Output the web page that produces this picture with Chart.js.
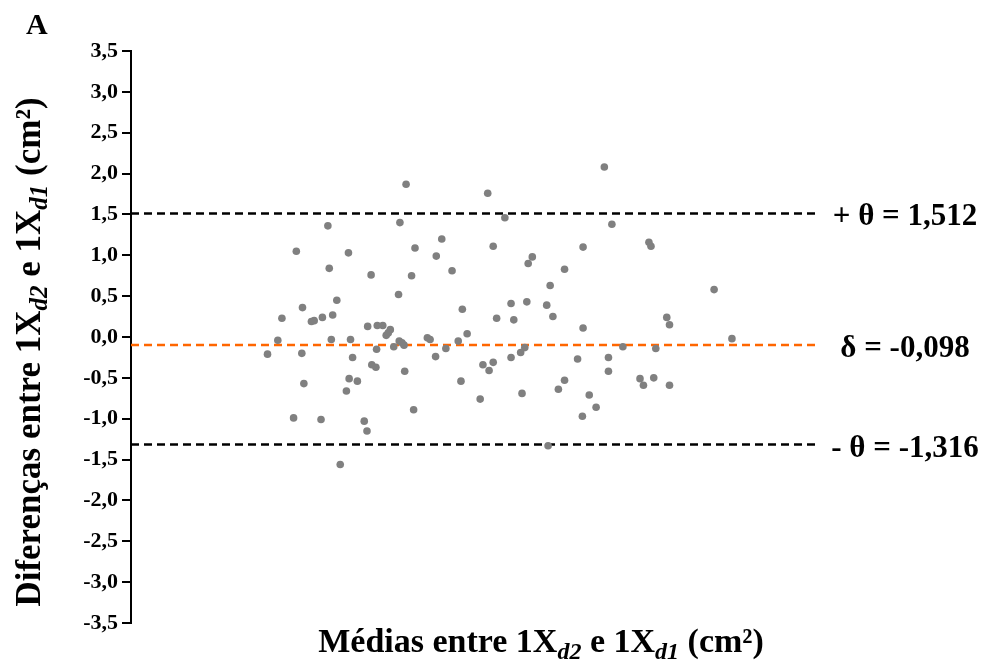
<!DOCTYPE html>
<html>
<head>
<meta charset="utf-8">
<script src="https://cdn.jsdelivr.net/npm/chart.js@4/dist/chart.umd.min.js"></script>
<style>
  html, body { margin: 0; padding: 0; background: #ffffff; }
  #wrap { width: 991px; height: 661px; position: relative; }
</style>
</head>
<body>
<div id="wrap"><canvas id="c" width="991" height="661"></canvas></div>
<script>
// Bland-Altman: mean of the two measurements (x) vs. their difference (y), in cm²
const meanValues = [
  1.99, 2.14, 2.20, 2.37, 2.41, 2.50, 2.49, 2.52, 2.63, 2.67,
  2.77, 2.79, 2.87, 2.89, 2.92, 2.94, 3.00, 3.05, 3.14, 3.17,
  3.18, 3.20, 3.23, 3.30, 3.40, 3.44, 3.45, 3.50, 3.51, 3.57,
  3.59, 3.58, 3.67, 3.72, 3.75, 3.78, 3.83, 3.90, 3.91, 3.92,
  3.95, 3.98, 3.99, 4.01, 4.09, 4.12, 4.14, 4.32, 4.36, 4.44,
  4.45, 4.53, 4.59, 4.68, 4.77, 4.81, 4.83, 4.90, 5.09, 5.13,
  5.20, 5.22, 5.28, 5.28, 5.33, 5.45, 5.54, 5.54, 5.58, 5.68,
  5.70, 5.74, 5.77, 5.79, 5.85, 6.06, 6.08, 6.11, 6.15, 6.23,
  6.32, 6.32, 6.51, 6.58, 6.59, 6.59, 6.68, 6.78, 6.90, 6.96,
  6.96, 7.01, 7.17, 7.42, 7.47, 7.55, 7.58, 7.62, 7.65, 7.81,
  7.85, 7.85, 8.50, 8.76
];
const diffValues = [
  -0.21, -0.04, 0.23, -0.99, 1.05, 0.36, -0.20, -0.57, 0.19, 0.20,
  -1.01, 0.24, 1.36, 0.84, -0.03, 0.27, 0.45, -1.56, -0.66, 1.03,
  -0.51, -0.03, -0.25, -0.54, -1.03, -1.15, 0.13, 0.76, -0.34, -0.37,
  0.14, -0.15, 0.14, 0.02, 0.05, 0.09, -0.12, 0.52, -0.05, 1.40,
  -0.07, -0.10, -0.42, 1.87, 0.75, -0.89, 1.09, -0.01, -0.03, -0.24,
  0.99, 1.20, -0.14, 0.81, -0.05, -0.54, 0.34, 0.04, -0.76, -0.34,
  1.76, -0.41, -0.31, 1.11, 0.23, 1.46, 0.41, -0.25, 0.21, -0.19,
  -0.69, -0.13, 0.43, 0.90, 0.98, 0.39, -1.33, 0.63, 0.25, -0.64,
  -0.53, 0.83, -0.27, -0.97, 0.11, 1.10, -0.71, -0.86, 2.08, -0.25,
  -0.42, 1.38, -0.12, -0.51, -0.59, 1.16, 1.11, -0.50, -0.14, 0.24,
  0.15, -0.59, 0.58, -0.02
];

// Axis settings
const yMin = -3.5, yMax = 3.5, yStep = 0.5;
const xMin = 0, xMax = 10;

// Agreement limits and bias
const limitValues = [1.512, -0.098, -1.316];
const limitLabels = ['+ θ = 1,512', 'δ = -0,098', '- θ = -1,316'];
const limitColors = ['#000000', '#ff6600', '#000000'];

const panelLetter = 'A';
const xTitleParts = [
  { t: 'Médias entre 1X' }, { t: 'd2', sub: true }, { t: ' e 1X' }, { t: 'd1', sub: true }, { t: ' (cm²)' }
];
const yTitleParts = [
  { t: 'Diferenças entre 1X' }, { t: 'd2', sub: true }, { t: ' e 1X' }, { t: 'd1', sub: true }, { t: ' (cm²)' }
];

const FAMILY = '"Liberation Serif", "Times New Roman", serif';

const points = meanValues.map((m, i) => ({ x: m, y: diffValues[i] }));

const limitDatasets = limitValues.map((v, i) => ({
  type: 'line',
  data: [{ x: xMin, y: v }, { x: xMax, y: v }],
  borderColor: limitColors[i],
  borderWidth: 2.4,
  borderDash: [8, 5],
  pointRadius: 0,
  fill: false,
  order: 2
}));

function partFont(p, size) {
  return p.sub ? `italic bold ${Math.round(size * 0.72)}px ${FAMILY}` : `bold ${size}px ${FAMILY}`;
}
function richWidth(ctx, parts, size) {
  let w = 0;
  for (const p of parts) { ctx.font = partFont(p, size); w += ctx.measureText(p.t).width; }
  return w;
}
function drawRich(ctx, parts, size, x, y) {
  for (const p of parts) {
    ctx.font = partFont(p, size);
    ctx.fillText(p.t, x, y + (p.sub ? size * 0.2 : 0));
    x += ctx.measureText(p.t).width;
  }
}

const annotations = {
  id: 'annotations',
  afterDraw(chart) {
    const ctx = chart.ctx;
    const yScale = chart.scales.y;
    ctx.save();
    ctx.fillStyle = '#000';
    ctx.textBaseline = 'alphabetic';

    // panel letter
    ctx.textAlign = 'left';
    ctx.font = `bold 30px ${FAMILY}`;
    ctx.fillText(panelLetter, 26, 34);

    // limit labels at the right of each dashed line
    ctx.textAlign = 'center';
    ctx.font = `bold 31px ${FAMILY}`;
    limitValues.forEach((v, i) => {
      ctx.fillText(limitLabels[i], 905, yScale.getPixelForValue(v) + 12);
    });

    // x-axis title
    ctx.textAlign = 'left';
    const xs = 34;
    const xw = richWidth(ctx, xTitleParts, xs);
    drawRich(ctx, xTitleParts, xs, 541 - xw / 2, 652);

    // y-axis title, rotated
    const ys = 35;
    const yw = richWidth(ctx, yTitleParts, ys);
    ctx.translate(40, 352);
    ctx.rotate(-Math.PI / 2);
    drawRich(ctx, yTitleParts, ys, -yw / 2, 0);
    ctx.restore();
  }
};

new Chart(document.getElementById('c'), {
  type: 'scatter',
  data: {
    datasets: [
      {
        data: points,
        backgroundColor: '#808080',
        borderWidth: 0,
        pointRadius: 3.8,
        pointHoverRadius: 3.8,
        order: 0
      },
      ...limitDatasets
    ]
  },
  options: {
    responsive: false,
    animation: false,
    devicePixelRatio: 1,
    layout: { padding: { top: 51, bottom: 38, right: 174, left: 0 } },
    plugins: { legend: { display: false }, tooltip: { enabled: false } },
    scales: {
      x: { type: 'linear', display: false, min: xMin, max: xMax },
      y: {
        type: 'linear',
        min: yMin,
        max: yMax,
        afterFit(scale) { scale.width = 131; },
        border: { display: true, color: '#000', width: 2 },
        grid: { display: true, drawOnChartArea: false, drawTicks: true, tickLength: 9, color: '#000', lineWidth: 2 },
        ticks: {
          stepSize: yStep,
          padding: 4,
          color: '#000',
          font: { family: FAMILY, size: 22, weight: 'bold' },
          callback: (v) => Number(v).toFixed(1).replace('.', ',')
        }
      }
    }
  },
  plugins: [annotations]
});
</script>
</body>
</html>
